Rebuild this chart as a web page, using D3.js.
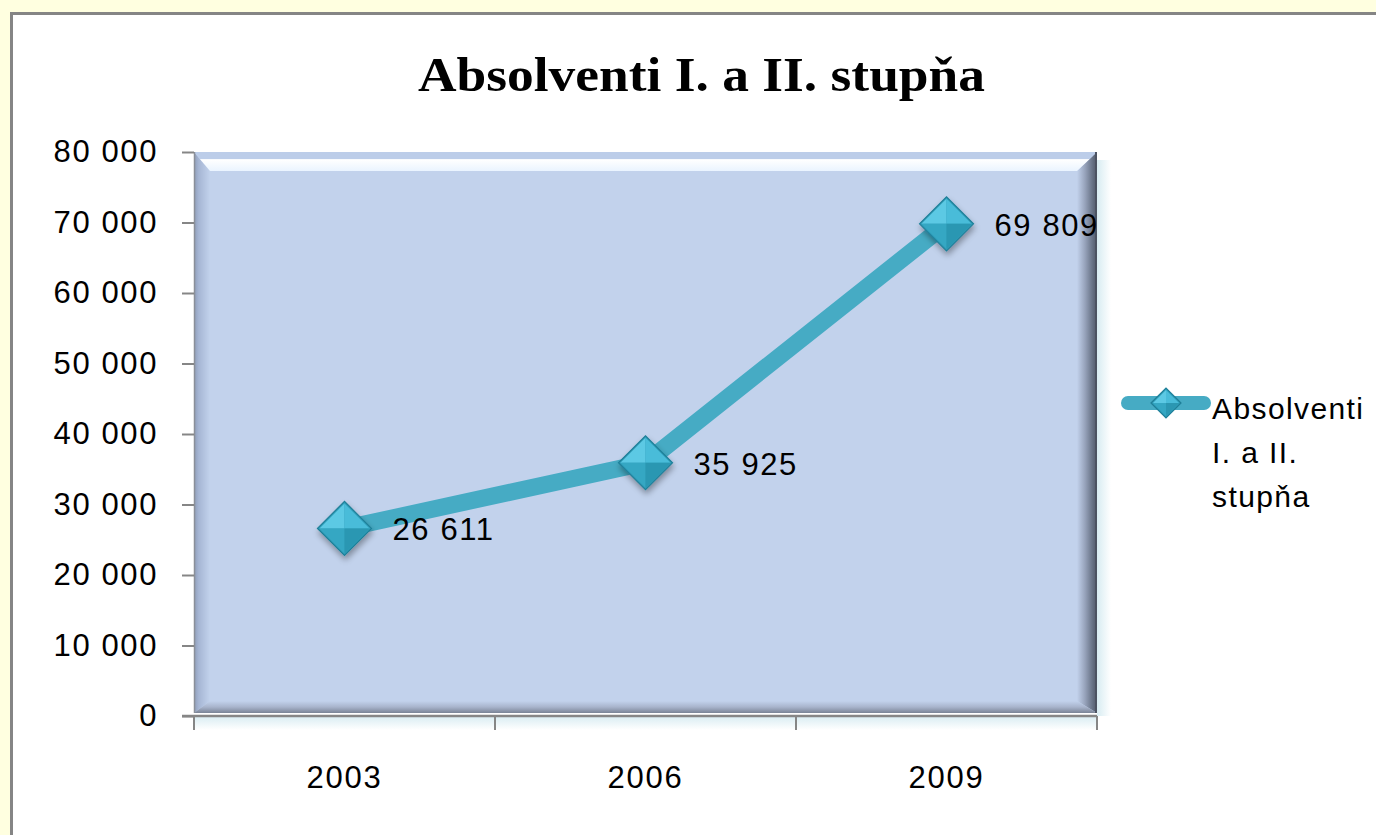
<!DOCTYPE html>
<html>
<head>
<meta charset="utf-8">
<script src="https://cdn.jsdelivr.net/npm/d3@7"></script>
<style>
  body { margin:0; background:#FFFFE0; }
  svg { display:block; }
</style>
</head>
<body>
<div class="canva"></div>
<script>
// data
var years = ["2003", "2006", "2009"];
var absolventi = [26611, 35925, 69809];
var yTicks = [0, 10000, 20000, 30000, 40000, 50000, 60000, 70000, 80000];
var seriesName = ["Absolventi", "I. a II.", "stupňa"];
var title = "Absolventi I. a II. stupňa";

const W = 1376, H = 835;
const pLeft = 194, pRight = 1097, pTop = 152, pBottom = 716;
const numFont = "Liberation Sans, Arial, sans-serif";

const svg = d3.select(".canva").append("svg")
  .attr("width", W)
  .attr("height", H);

const defs = svg.append("defs");

// bevel gradients for the plot area
function grad(id, x1, y1, x2, y2, stops) {
  const g = defs.append("linearGradient").attr("id", id)
    .attr("x1", x1).attr("y1", y1).attr("x2", x2).attr("y2", y2);
  stops.forEach(s => g.append("stop").attr("offset", s[0]).attr("stop-color", s[1]));
}
grad("gLeft", 0, 0, 1, 0, [[0, "#8e9cb8"], [0.3, "#a6b6d4"], [1, "#c2d2ec"]]);
grad("gRight", 0, 0, 1, 0, [[0, "#c2d2ec"], [0.4, "#97a3bb"], [0.75, "#6a7589"], [1, "#4f5767"]]);
grad("gBottom", 0, 0, 0, 1, [[0, "#c2d2ec"], [0.5, "#a8b4cc"], [1, "#7a8496"]]);
grad("gTop", 0, 0, 0, 1, [[0, "#bccde9"], [0.35, "#bccde9"], [0.4, "#ffffff"], [1, "#eaf4ff"]]);
grad("gShadow", 0, 0, 0, 1, [[0, "#d8ecf2"], [1, "#ffffff"]]);
grad("gShadowR", 0, 0, 1, 0, [[0, "#d8ecf2"], [1, "#ffffff"]]);

const f = defs.append("filter").attr("id", "shadow")
  .attr("x", "-50%").attr("y", "-50%").attr("width", "200%").attr("height", "200%");
f.append("feGaussianBlur").attr("in", "SourceAlpha").attr("stdDeviation", 3);
f.append("feOffset").attr("dx", 1).attr("dy", 4).attr("result", "b");
f.append("feComponentTransfer").append("feFuncA").attr("type", "linear").attr("slope", 0.35);
const fm = f.append("feMerge");
fm.append("feMergeNode");
fm.append("feMergeNode").attr("in", "SourceGraphic");

// chart frame
svg.append("rect")
  .attr("x", 11.5).attr("y", 13.5)
  .attr("width", W + 20).attr("height", H + 20)
  .attr("fill", "#ffffff")
  .attr("stroke", "#858585")
  .attr("stroke-width", 3);

// title
svg.append("text")
  .attr("x", 418).attr("y", 91)
  .attr("font-family", "Liberation Serif, Times New Roman, serif")
  .attr("font-weight", "bold")
  .attr("font-size", 49)
  .attr("textLength", 567)
  .attr("lengthAdjust", "spacingAndGlyphs")
  .text(title);

const x = d3.scaleBand().domain(years).range([pLeft, pRight]);
const y = d3.scaleLinear().domain([0, 80000]).range([pBottom, pTop]);

// soft shadow below/right of the plot area
svg.append("rect").attr("x", pLeft).attr("y", pBottom).attr("width", pRight - pLeft).attr("height", 14)
  .attr("fill", "url(#gShadow)");
svg.append("rect").attr("x", pRight).attr("y", pTop + 8).attr("width", 14).attr("height", pBottom - pTop - 8)
  .attr("fill", "url(#gShadowR)");

// plot area with bevel
const pa = svg.append("g");
const pb = pBottom - 3;
pa.append("rect").attr("x", pLeft).attr("y", pTop).attr("width", pRight - pLeft).attr("height", pb - pTop)
  .attr("fill", "#c2d2ec");
pa.append("polygon")
  .attr("points", [[pLeft, pTop], [pLeft + 16, pTop + 19], [pLeft + 16, pb - 12], [pLeft, pb]].join(" "))
  .attr("fill", "url(#gLeft)");
pa.append("polygon")
  .attr("points", [[pRight, pTop], [pRight, pb], [pRight - 20, pb - 12], [pRight - 20, pTop + 19]].join(" "))
  .attr("fill", "url(#gRight)");
pa.append("polygon")
  .attr("points", [[pLeft, pb], [pLeft + 16, pb - 12], [pRight - 20, pb - 12], [pRight, pb]].join(" "))
  .attr("fill", "url(#gBottom)");
pa.append("polygon")
  .attr("points", [[pLeft, pTop], [pRight, pTop], [pRight - 20, pTop + 19], [pLeft + 16, pTop + 19]].join(" "))
  .attr("fill", "url(#gTop)");
pa.append("line").attr("x1", pLeft + 0.5).attr("x2", pLeft + 0.5).attr("y1", pTop).attr("y2", pb)
  .attr("stroke", "#8a8f99").attr("stroke-width", 1.5);
pa.append("line").attr("x1", pRight - 1).attr("x2", pRight - 1).attr("y1", pTop).attr("y2", pb)
  .attr("stroke", "#4c5362").attr("stroke-width", 2);

// y axis
const yAxis = svg.append("g")
  .attr("transform", `translate(${pLeft},0)`)
  .call(d3.axisLeft(y).tickValues(yTicks).tickSize(12).tickPadding(24)
    .tickFormat(d => d3.format(",")(d).replace(/,/g, " ")));
yAxis.select(".domain").remove();
yAxis.selectAll(".tick line").attr("stroke", "#868686").attr("stroke-width", 2);
yAxis.selectAll("text")
  .attr("font-family", numFont)
  .attr("font-size", 31).attr("letter-spacing", 1.6).attr("fill", "#000");

// x axis
const xAxis = svg.append("g")
  .attr("transform", `translate(0,${pBottom})`)
  .call(d3.axisBottom(x).tickSize(0).tickPadding(50));
xAxis.select(".domain").attr("stroke", "#868686").attr("stroke-width", 2.5)
  .attr("d", `M${pLeft - 12},0H${pRight}`);
xAxis.selectAll("text")
  .attr("font-family", numFont)
  .attr("font-size", 31).attr("letter-spacing", 1.8).attr("fill", "#000");
svg.append("g").selectAll("line")
  .data(years.concat(["end"]))
  .join("line")
  .attr("x1", (d, i) => pLeft + i * x.step())
  .attr("x2", (d, i) => pLeft + i * x.step())
  .attr("y1", pBottom).attr("y2", pBottom + 14)
  .attr("stroke", "#868686").attr("stroke-width", 2);

// the line
const cx = d => x(d) + x.bandwidth() / 2;
const pts = years.map((d, i) => [cx(d), y(absolventi[i])]);
svg.append("path")
  .attr("d", d3.line()(pts))
  .attr("fill", "none")
  .attr("stroke", "#46abc4")
  .attr("stroke-width", 17)
  .attr("stroke-linejoin", "round")
  .attr("stroke-linecap", "round");

// diamond markers
function diamond(g, r) {
  g.append("polygon").attr("points", [[-r, 0], [0, -r], [r, 0], [0, r]].join(" "))
    .attr("fill", "#2f9cb8").attr("stroke", "#1f7f98").attr("stroke-width", 1.2);
  g.append("polygon").attr("points", [[-r + 2, 0], [0, -r + 2], [0, 0]].join(" ")).attr("fill", "#5cc9e4");
  g.append("polygon").attr("points", [[0, -r + 2], [r - 2, 0], [0, 0]].join(" ")).attr("fill", "#49bcd9");
  g.append("polygon").attr("points", [[-r + 2, 0], [0, 0], [0, r - 2]].join(" ")).attr("fill", "#35a7c3");
  g.append("polygon").attr("points", [[0, 0], [r - 2, 0], [0, r - 2]].join(" ")).attr("fill", "#2b97b2");
}
svg.append("g").selectAll("g")
  .data(pts)
  .join("g")
  .attr("transform", d => `translate(${d[0]},${d[1]})`)
  .attr("filter", "url(#shadow)")
  .each(function () { diamond(d3.select(this), 27); });

// data labels
svg.append("g").selectAll("text")
  .data(pts)
  .join("text")
  .attr("x", d => d[0] + 48)
  .attr("y", d => d[1] + 12)
  .attr("font-family", numFont)
  .attr("font-size", 31)
  .attr("letter-spacing", 1.6)
  .text((d, i) => d3.format(",")(absolventi[i]).replace(/,/g, " "));

// legend
const lg = svg.append("g").attr("transform", "translate(1122,403)");
lg.append("line").attr("x1", 6).attr("x2", 82).attr("y1", 0).attr("y2", 0)
  .attr("stroke", "#46abc4").attr("stroke-width", 14).attr("stroke-linecap", "round");
lg.append("g").attr("transform", "translate(44,0)").call(g => diamond(g, 15));
lg.append("g").selectAll("text")
  .data(seriesName)
  .join("text")
  .attr("x", 90)
  .attr("y", (d, i) => 16 + i * 44)
  .attr("font-family", numFont)
  .attr("font-size", 30)
  .attr("letter-spacing", 1.4)
  .text(d => d);
</script>
</body>
</html>
